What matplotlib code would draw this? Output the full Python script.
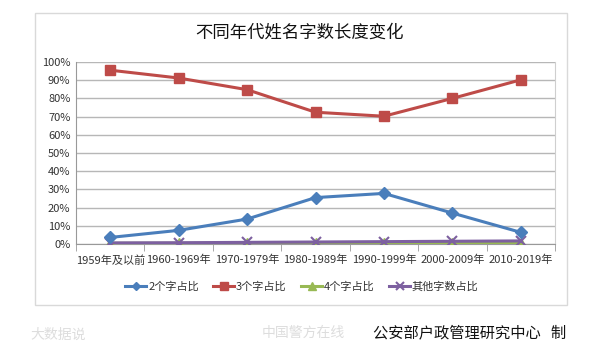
import matplotlib
matplotlib.use("Agg")
import matplotlib.pyplot as plt
from matplotlib.patches import Rectangle
from matplotlib.ticker import FixedLocator, PercentFormatter

plt.rcParams['font.family'] = ['Noto Sans CJK SC', 'DejaVu Sans']

categories = ["1959年及以前", "1960-1969年", "1970-1979年", "1980-1989年",
              "1990-1999年", "2000-2009年", "2010-2019年"]
two_char = [3.6, 7.5, 13.7, 25.5, 27.8, 17.0, 6.4]
three_char = [95.5, 91.2, 84.8, 72.4, 70.2, 80.0, 90.2]
four_char = [0.4, 0.4, 0.4, 0.5, 0.5, 0.5, 0.5]
other_char = [0.6, 0.7, 0.9, 1.1, 1.3, 1.5, 1.7]
series_names = ["2个字占比", "3个字占比", "4个字占比", "其他字数占比"]

W, H = 590, 348
fig = plt.figure(figsize=(W / 100, H / 100), dpi=100)

# outer chart frame
fig.add_artist(Rectangle((35 / W, 1 - 305 / H), 532 / W, 292 / H,
                         transform=fig.transFigure, fill=False,
                         edgecolor="#d9d9d9", linewidth=1.0))

ax = fig.add_axes([76 / W, 1 - 244 / H, 479 / W, 182 / H])
x = list(range(len(categories)))

ax.plot(x, two_char, color="#4A7EBB", lw=2.2, marker="D", ms=6, zorder=4)
ax.plot(x, three_char, color="#BE4B48", lw=2.2, marker="s", ms=7, zorder=4)
ax.plot(x, four_char, color="#98B954", lw=2.2, marker="^", ms=7, zorder=3)
ax.plot(x, other_char, color="#7D60A0", lw=2.2, marker="x", ms=7, mew=1.5, zorder=3)

ax.set_xlim(-0.5, len(categories) - 0.5)
ax.set_ylim(0, 100)
ax.set_yticks(range(0, 101, 10))
ax.yaxis.set_major_formatter(PercentFormatter(decimals=0))
ax.grid(axis="y", color="#b7b7b7", lw=1.0)
ax.set_axisbelow(True)

ax.set_xticks(x)
ax.set_xticklabels(categories)
ax.xaxis.set_minor_locator(FixedLocator([i - 0.5 for i in range(len(categories) + 1)]))
ax.tick_params(axis="x", which="major", length=0, pad=8, labelsize=8, colors="#333333")
ax.tick_params(axis="x", which="minor", length=5, color="#999999")
ax.tick_params(axis="y", length=0, pad=4, labelsize=8, colors="#333333")

ax.spines["top"].set_visible(False)
ax.spines["left"].set_color("#999999")
ax.spines["bottom"].set_color("#999999")
ax.spines["right"].set_color("#cfcfcf")

fig.text(300 / W, 1 - 33 / H, "不同年代姓名字数长度变化", ha="center", va="center",
         fontsize=12.5, color="#111111")

leg = fig.legend(ax.lines, series_names, loc="center", bbox_to_anchor=(302 / W, 1 - 287 / H),
                 ncol=4, frameon=False, fontsize=8, handlelength=1.9, columnspacing=1.3,
                 handletextpad=0.15, labelcolor="#333333", markerscale=0.75)

# credits beneath the chart
fig.text(566 / W, 1 - 333 / H, "公安部户政管理研究中心   制", ha="right", va="center",
         fontsize=11, color="#111111")
fig.text(262 / W, 1 - 333 / H, "中国警方在线", ha="left", va="center",
         fontsize=10, color="#dddddd")
fig.text(30 / W, 1 - 335 / H, "大数据说", ha="left", va="center",
         fontsize=10, color="#dddddd")

fig.savefig("out.png", dpi=100, facecolor="white")
